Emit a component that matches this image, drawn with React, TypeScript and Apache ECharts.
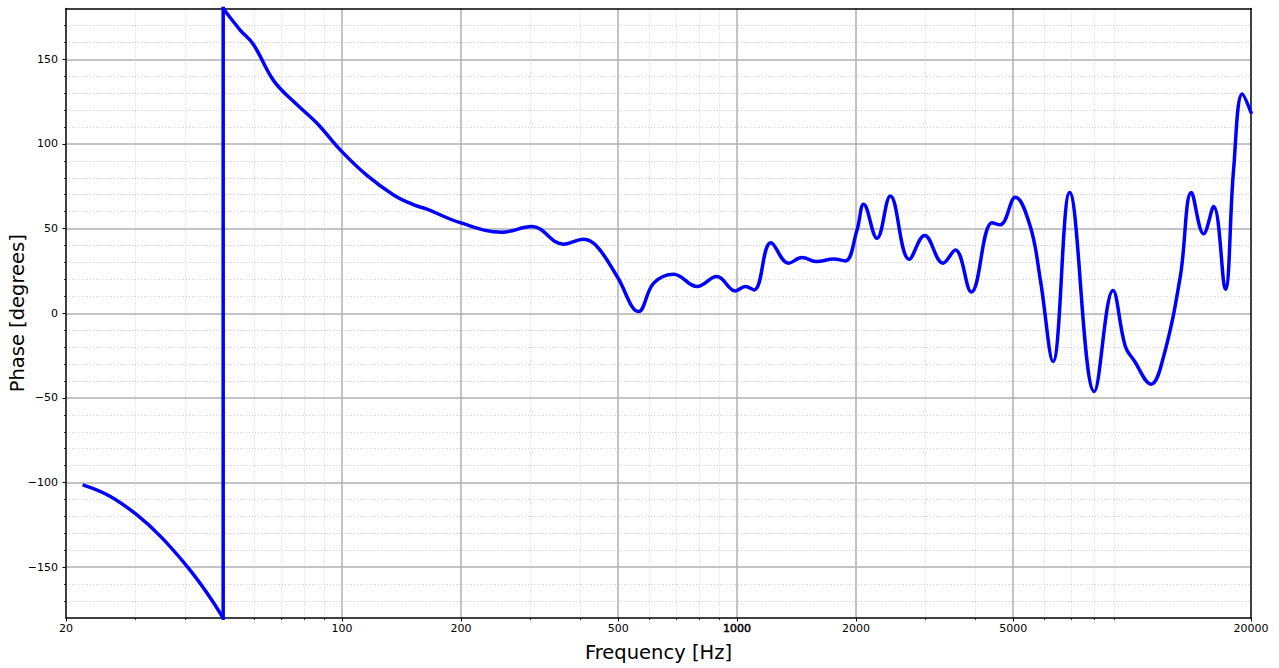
import React, { useEffect, useRef } from "react";
import * as echarts from "echarts";

// Tick positions / labels
const xMajorTicks = [20, 100, 200, 500, 1000, 2000, 5000, 20000];
const xMinorTicks = [30, 40, 50, 60, 70, 80, 90, 300, 400, 600, 700, 800, 900, 3000, 4000, 6000, 7000, 8000, 9000];
const yMajorTicks = [-150, -100, -50, 0, 50, 100, 150];
const yMinorTicks = [-170, -160, -140, -130, -120, -110, -90, -80, -70, -60, -40, -30, -20, -10, 10, 20, 30, 40, 60, 70, 80, 90, 110, 120, 130, 140, 160, 170];

// Phase data below the wrap (Hz, degrees)
const lowFreq = [22.25, 25.9, 30.2, 34.7, 40.5, 45.5, 50];
const lowPhase = [-101.7, -108.2, -119.0, -131.8, -149.5, -165.2, -180];

// Phase data after the wrap (Hz, degrees)
const highFreq = [50, 55.2, 59.7, 67.1, 75.4, 86.4, 98.9, 115.6, 135, 152, 164, 199, 254, 302, 364, 409, 442, 497, 563, 615, 691, 792, 889, 990, 1049, 1105, 1218, 1350, 1460, 1593, 1756, 1879, 2012, 2091, 2260, 2443, 2728, 2984, 3322, 3568, 3917, 4420, 4638, 5064, 5526, 5858, 6306, 6948, 8024, 8946, 9614, 10090, 11168, 12014, 13244, 14126, 15172, 16084, 17218, 18068, 19012, 20000];
const highPhase = [180, 167.3, 158.6, 137.4, 125.0, 112.2, 96.5, 81.4, 69.9, 64, 61.5, 53.5, 47.9, 51.2, 40.8, 43.7, 39.4, 21.7, 1.0, 17.8, 23.1, 15.8, 21.7, 13.2, 15.8, 13.8, 41.7, 29.6, 32.9, 30.5, 32.1, 30.9, 49.2, 64.4, 44.3, 69.3, 31.9, 45.9, 29.6, 37.4, 12.5, 53.5, 52.2, 68.5, 51.2, 19.7, -28.5, 71.3, -46.2, 13.4, -19.7, -27.5, -41.9, -25.6, 21.7, 71.3, 46.9, 63, 14.2, 84.7, 129.5, 118.7];

const FONT = "DejaVu Sans";

export default function App() {
  const ref = useRef<HTMLDivElement>(null);
  useEffect(() => {
    if (!ref.current) return;
    const chart = echarts.init(ref.current, undefined, { renderer: "svg" });
    const lowData = lowFreq.map((f, i) => [f, lowPhase[i]]);
    const highData = highFreq.map((f, i) => [f, highPhase[i]]);
    const jumpData = [lowData[lowData.length - 1], highData[0]];
    const lineStyle = { color: "#0000ff", width: 3.5, cap: "square", join: "round" };
    const fmtY = (v: number) => (v < 0 ? "\u2212" + Math.abs(v) : String(v));
    const fmtX = (v: number) => {
      const s = String(Math.round(v));
      return Math.round(v) === 1000 ? "{b|" + s + "}" : s;
    };
    chart.setOption({
      animation: false,
      backgroundColor: "#ffffff",
      textStyle: { fontFamily: FONT },
      grid: { left: 66, right: 28, top: 8.5, bottom: 50, show: false, containLabel: false, outerBoundsMode: "none" },
      xAxis: [
        {
          type: "log",
          logBase: 10,
          min: 20,
          max: 20000,
          position: "bottom",
          name: "Frequency [Hz]",
          nameLocation: "middle",
          nameGap: 24,
          nameMoveOverlap: false,
          nameTextStyle: { fontFamily: FONT, fontSize: 19.5, color: "#000" },
          axisLine: { show: true, onZero: false, lineStyle: { color: "#000", width: 1.5 } },
          axisTick: { show: true, customValues: xMajorTicks, length: 3.5, lineStyle: { color: "#000", width: 1 } },
          axisLabel: {
            show: true,
            customValues: xMajorTicks,
            margin: 5,
            fontFamily: FONT,
            fontSize: 11,
            color: "#000",
            formatter: fmtX,
            rich: {
              b: { fontFamily: FONT, fontSize: 11, color: "#000", textBorderColor: "#000", textBorderWidth: 0.5 },
            },
          },
          splitLine: { show: true, showMinLine: false, showMaxLine: false, lineStyle: { color: "#b0b0b0", width: 1.5 } },
          minorTick: { show: false },
          minorSplitLine: { show: false },
        },
        {
          type: "log",
          logBase: 10,
          min: 20,
          max: 20000,
          position: "bottom",
          axisLine: { show: false, onZero: false },
          axisTick: { show: true, customValues: xMinorTicks, length: 2, lineStyle: { color: "#000", width: 0.8 } },
          axisLabel: { show: false, customValues: xMinorTicks },
          splitLine: { show: true, lineStyle: { color: "#c4c4c4", width: 0.8, type: [1, 2] } },
        },
        {
          type: "log",
          logBase: 10,
          min: 20,
          max: 20000,
          position: "top",
          axisLine: { show: true, onZero: false, lineStyle: { color: "#000", width: 1.5 } },
          axisTick: { show: false },
          axisLabel: { show: false },
          splitLine: { show: false },
        },
      ],
      yAxis: [
        {
          type: "value",
          min: -180,
          max: 180,
          position: "left",
          name: "Phase [degrees]",
          nameLocation: "middle",
          nameGap: 39,
          nameRotate: 90,
          nameMoveOverlap: false,
          nameTextStyle: { fontFamily: FONT, fontSize: 19.5, color: "#000" },
          axisLine: { show: true, onZero: false, lineStyle: { color: "#000", width: 1.5 } },
          axisTick: { show: true, customValues: yMajorTicks, length: 3.5, lineStyle: { color: "#000", width: 1 } },
          axisLabel: {
            show: true,
            customValues: yMajorTicks,
            margin: 8,
            fontFamily: FONT,
            fontSize: 11,
            color: "#000",
            formatter: fmtY,
          },
          splitLine: { show: true, lineStyle: { color: "#b0b0b0", width: 1.5 } },
        },
        {
          type: "value",
          min: -180,
          max: 180,
          position: "left",
          axisLine: { show: false, onZero: false },
          axisTick: { show: true, customValues: yMinorTicks, length: 2, lineStyle: { color: "#000", width: 0.8 } },
          axisLabel: { show: false, customValues: yMinorTicks },
          splitLine: { show: true, lineStyle: { color: "#c4c4c4", width: 0.8, type: [1, 2] } },
        },
        {
          type: "value",
          min: -180,
          max: 180,
          position: "right",
          axisLine: { show: true, onZero: false, lineStyle: { color: "#000", width: 1.5 } },
          axisTick: { show: false },
          axisLabel: { show: false },
          splitLine: { show: false },
        },
      ],
      series: [
        {
          type: "line",
          xAxisIndex: 0,
          yAxisIndex: 0,
          data: lowData,
          smooth: 0.4,
          showSymbol: false,
          lineStyle,
          z: 5,
        },
        {
          type: "line",
          xAxisIndex: 0,
          yAxisIndex: 0,
          data: jumpData,
          showSymbol: false,
          lineStyle,
          clip: false,
          z: 5,
        },
        {
          type: "line",
          xAxisIndex: 0,
          yAxisIndex: 0,
          data: highData,
          smooth: 0.4,
          showSymbol: false,
          lineStyle,
          z: 5,
        },
      ],
    });
    return () => chart.dispose();
  }, []);
  return (
    <div
      ref={ref}
      style={{ position: "absolute", left: 0, top: 0, width: 1279, height: 668 }}
    />
  );
}
